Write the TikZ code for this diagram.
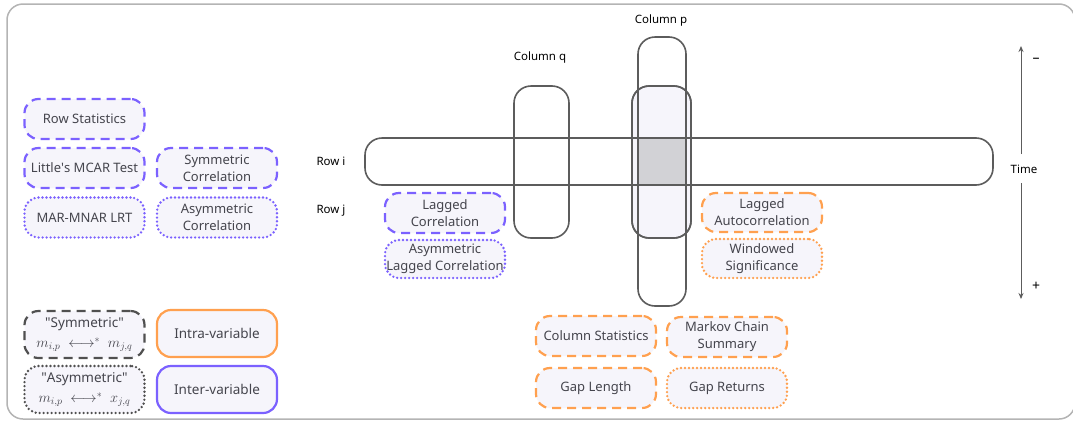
\documentclass[tikz,border=0pt]{standalone}
\usepackage{fontspec}
\setmainfont{Noto Sans}
\usetikzlibrary{positioning,arrows.meta}
\definecolor{boxfill}{HTML}{F6F5FB}
\definecolor{boxtext}{HTML}{45454D}
\definecolor{violetline}{HTML}{7B61FF}
\definecolor{orangeline}{HTML}{FFA04F}
\definecolor{legendgray}{HTML}{505050}
\definecolor{lanegray}{HTML}{5C5C5C}
\definecolor{cellgray}{HTML}{D2D2D6}
\definecolor{framegray}{HTML}{B4B4B4}
\newcommand{\pairmath}[1]{{\fontsize{14.5}{17}\selectfont$#1$}}
\tikzset {
    metric box/.style={
        fill=boxfill,
        line width=2.2pt,
        rectangle, % Set the shape as a rectangle
        rounded corners=14pt,
        minimum width=120pt,
        minimum height=40pt,
        text=boxtext,
        align=center,
        font=\fontsize{13}{17}\selectfont,
        inner sep=1pt,
    },
    dash line/.style={
        dash pattern=on 9pt off 6pt,
    },
    dot line/.style={
        dash pattern=on 0pt off 4pt,
        line cap=round,
        line width=2.6pt,
    },
    violet dash/.style={metric box, dash line, draw=violetline},
    violet dot/.style={metric box, dot line, draw=violetline},
    orange dash/.style={metric box, dash line, draw=orangeline},
    orange dot/.style={metric box, dot line, draw=orangeline},
    legend box/.style={metric box, minimum height=47pt, font=\fontsize{13.5}{17}\selectfont},
    lane/.style={
        draw=lanegray,
        line width=1.6pt,
        rectangle,
        rounded corners=17pt,
        inner sep=0pt,
    },
    axis label/.style={
        font=\fontsize{11.5}{13}\selectfont,
        text=black,
        inner sep=1pt,
    },
}

\begin{document}
\begin{tikzpicture}[x=1pt, y=-1pt]
\useasboundingbox (0,0) rectangle (1073,421);
\draw[framegray, line width=1.5pt, fill=white!98!boxfill, rounded corners=16pt] (7,4) rectangle (1075,419);

% row and columns of the matrix
\node[lane, fill=boxfill, minimum width=59pt, minimum height=152pt] at (661.5,162) (inner) {};
\node[draw=none, fill=cellgray, minimum width=48pt, minimum height=47pt, inner sep=0pt] at (662,161.5) (cell) {};
\node[lane, minimum width=628pt, minimum height=47pt] at (679,161.5) (rowi) {};
\node[lane, minimum width=55pt, minimum height=152pt] at (541.5,162) (colq) {};
\node[lane, minimum width=48pt, minimum height=269pt] at (662,171.5) (colp) {};
\node[lane, minimum width=59pt, minimum height=152pt] at (661.5,162) (innerline) {};

\node[axis label] at (331,161) (rowilabel) {Row i};
\node[axis label] at (331,211) (rowjlabel) {Row j};
\node[axis label] at (540,58) (colqlabel) {Column q};
\node[axis label] at (661,21) (colplabel) {Column p};

% time axis
\node[axis label] at (1024,169) (time) {Time};
\coordinate (past) at (1021,46);
\coordinate (future) at (1021,299);
\draw[lanegray, line width=1pt, -{Stealth[length=6pt, width=5pt]}] (1021,154) -- (past);
\draw[lanegray, line width=1pt, -{Stealth[length=6pt, width=5pt]}] (1021,183) -- (future);
\node[axis label, font=\fontsize{14}{16}\selectfont] at (1036,60) (minus) {\textendash};
\node[axis label, font=\fontsize{14}{16}\selectfont] at (1036,286) (plus) {+};

% left block
\node[violet dash] at (84.5,119) (rowstat) {Row Statistics};
\node[violet dash] at (84.5,168) (mcar) {Little\textquotesingle s MCAR Test};
\node[violet dash] at (217,168) (symcorr) {Symmetric\\Correlation};
\node[violet dot] at (84.5,217.5) (marmnar) {MAR-MNAR LRT};
\node[violet dot] at (217,217.5) (asymcorr) {Asymmetric\\Correlation};

% legend
\node[legend box, draw=legendgray, dash line] at (84.5,334.5) (symleg) {\textquotedbl Symmetric\textquotedbl\\[3pt]\pairmath{m_{i,p}\ \longleftrightarrow^{*}\ m_{j,q}}};
\node[legend box, draw=orangeline] at (217,333.5) (intra) {Intra-variable};
\node[legend box, draw=legendgray, dot line] at (84.5,389.5) (asymleg) {\textquotedbl Asymmetric\textquotedbl\\[3pt]\pairmath{m_{i,p}\ \longleftrightarrow^{*}\ x_{j,q}}};
\node[legend box, draw=violetline] at (217,389.5) (inter) {Inter-variable};

% between rows
\node[violet dash] at (445,213) (laggedcorr) {Lagged\\Correlation};
\node[violet dot, minimum height=38pt] at (445,259) (asymlagged) {Asymmetric\\Lagged Correlation};
\node[orange dash, minimum height=39pt] at (762,212.5) (laggedauto) {Lagged\\Autocorrelation};
\node[orange dot, minimum height=39pt] at (762,258.5) (windowed) {Windowed\\Significance};

% column block
\node[orange dash] at (596,336) (colstat) {Column Statistics};
\node[orange dash] at (727,337) (markov) {Markov Chain\\Summary};
\node[orange dash] at (596,388) (gaplen) {Gap Length};
\node[orange dot] at (727,388) (gapret) {Gap Returns};
\end{tikzpicture}
\end{document}
